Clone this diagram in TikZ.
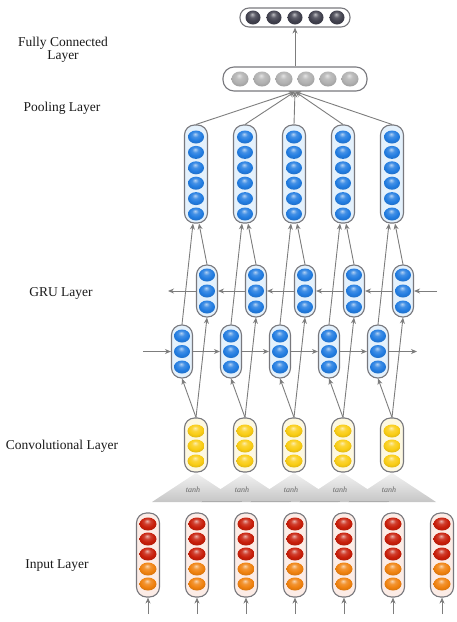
\documentclass[tikz,border=0pt]{standalone}
\usepackage{fontspec}
\setmainfont{Liberation Serif}
\usetikzlibrary{shapes.geometric,arrows.meta}
\definecolor{edgegray}{RGB}{120,120,125}
\definecolor{arrowgray}{RGB}{125,125,125}
\definecolor{bluec}{RGB}{35,125,225}
\definecolor{yellowc}{RGB}{250,205,20}
\definecolor{redc}{RGB}{200,30,10}
\definecolor{orangec}{RGB}{240,130,15}
\definecolor{darkc}{RGB}{65,65,78}
\definecolor{poolc}{RGB}{178,178,178}
\definecolor{bluefill}{RGB}{228,241,252}
\definecolor{yellowfill}{RGB}{253,248,225}
\definecolor{redfill}{RGB}{252,236,230}
\makeatletter
\pgfdeclareradialshading[tikz@ball]{softball}{\pgfqpoint{-3bp}{12bp}}{%
  color(0bp)=(tikz@ball!35!white);
  color(10bp)=(tikz@ball!85!white);
  color(20bp)=(tikz@ball);
  color(30bp)=(tikz@ball!88!black);
  color(50bp)=(tikz@ball!70!black)}
\makeatother
\begin{document}
\begin{tikzpicture}[x=1pt,y=-1pt,
  vpill/.style={draw=edgegray, line width=1.1pt, rounded corners=10pt, minimum width=23pt, inner sep=0pt, fill=#1},
  hpill/.style={draw=edgegray, line width=1.1pt, rounded corners=9pt, inner sep=0pt, fill=white},
  bead/.style={ellipse, inner sep=0pt, minimum width=16pt, minimum height=13pt, ball color=#1, shading=softball},
  arr/.style={draw=arrowgray, line width=0.9pt, -{Stealth[length=6pt,width=5pt]}},
  lbl/.style={font=\fontsize{13.5}{13}\selectfont, text=black!90, align=center},
  tanhlbl/.style={font=\fontsize{8}{8}\selectfont\itshape, text=black!60}
]
\useasboundingbox (0,0) rectangle (457,622);

% labels
\node[lbl] (lfc) at (63,49.5) {Fully Connected\\Layer};
\node[lbl] (lpool) at (62,108) {Pooling Layer};
\node[lbl] (lgru) at (61,293) {GRU Layer};
\node[lbl] (lconv) at (62,446) {Convolutional Layer};
\node[lbl] (lin) at (57,566) {Input Layer};

% fully connected layer
\node[hpill, minimum width=110pt, minimum height=19pt] (fc) at (295,17.5) {};
\foreach \k in {0,...,4}
  \node[bead=darkc, minimum width=15pt, minimum height=14pt] (fc-\k) at ({253+21*\k},17.5) {};

% pooling layer
\node[hpill, rounded corners=11pt, minimum width=144pt, minimum height=24pt] (pool) at (295,79) {};
\foreach \k in {0,...,5}
  \node[bead=poolc, minimum width=17pt, minimum height=15pt] (pool-\k) at ({240+22*\k},79) {};

% tanh triangles
\foreach \i in {1,...,5}{
  \pgfmathsetmacro\xa{196+49*(\i-1)}
  \shade[top color=gray!10, bottom color=gray!45] (\xa,473) -- ({\xa+44},502) -- ({\xa-44},502) -- cycle;
  \node[tanhlbl] (tanh\i) at ({\xa-3},490) {tanh};
}
\foreach \i in {2,...,5}{
  \pgfmathsetmacro\xa{196+49*(\i-1)}
  \draw[gray!65, line width=0.9pt] ({\xa-43},501.5) -- ({\xa-3},501.5);
}

% main GRU output pillars, GRU rows, conv pillars
\foreach \i in {1,...,5}{
  \pgfmathsetmacro\xm{196+49*(\i-1)}
  \pgfmathsetmacro\xb{207+49*(\i-1)}
  \pgfmathsetmacro\xf{182+49*(\i-1)}
  \node[vpill=bluefill, minimum height=98pt] (main\i) at (\xm,174) {};
  \foreach \k in {0,...,5}
    \node[bead=bluec] (m\i-\k) at (\xm,{137+15.4*\k}) {};
  \node[vpill=bluefill, minimum width=21pt, minimum height=52pt] (bwd\i) at (\xb,291) {};
  \foreach \k in {0,...,2}
    \node[bead=bluec] (b\i-\k) at (\xb,{275+16*\k}) {};
  \node[vpill=bluefill, minimum width=21pt, minimum height=53pt] (fwd\i) at (\xf,351.5) {};
  \foreach \k in {0,...,2}
    \node[bead=bluec] (f\i-\k) at (\xf,{336+15.5*\k}) {};
  \node[vpill=yellowfill, minimum height=54pt] (conv\i) at (\xm,445) {};
  \foreach \k in {0,...,2}
    \node[bead=yellowc, minimum width=17pt] (c\i-\k) at (\xm,{431+15*\k}) {};
}

% input layer
\foreach \i in {1,...,7}{
  \pgfmathsetmacro\xi{148+49*(\i-1)}
  \node[vpill=redfill, minimum height=84pt] (in\i) at (\xi,555) {};
  \foreach \k in {0,1,2}
    \node[bead=redc, minimum width=17pt] (r\i-\k) at (\xi,{524+15*\k}) {};
  \foreach \k in {3,4}
    \node[bead=orangec, minimum width=17pt] (r\i-\k) at (\xi,{524+15*\k}) {};
  \coordinate (src\i) at (\xi,614);
  \draw[arr] (src\i) -- (in\i.south);
}

% connectors
\draw[arr] (pool.north) -- (fc.south);
\foreach \i in {1,...,5}{
  \draw[arr] (main\i.north) -- (pool.south);
  \draw[arr] (fwd\i.north) -- ([xshift=-3pt]main\i.south);
  \draw[arr] (bwd\i.north) -- ([xshift=3pt]main\i.south);
  \draw[arr] (conv\i.north) -- (fwd\i.south);
  \draw[arr] (conv\i.north) -- (bwd\i.south);
}

% recurrent connections
\coordinate (bin) at (437,291);
\coordinate (bout) at (168,291);
\coordinate (fin) at (143,351.5);
\coordinate (fout) at (417,351.5);
\draw[arr] (bin) -- (bwd5.east);
\foreach \i/\j in {5/4,4/3,3/2,2/1}
  \draw[arr] (bwd\i.west) -- (bwd\j.east);
\draw[arr] (bwd1.west) -- (bout);
\draw[arr] (fin) -- (fwd1.west);
\foreach \i/\j in {1/2,2/3,3/4,4/5}
  \draw[arr] (fwd\i.east) -- (fwd\j.west);
\draw[arr] (fwd5.east) -- (fout);
\end{tikzpicture}
\end{document}
